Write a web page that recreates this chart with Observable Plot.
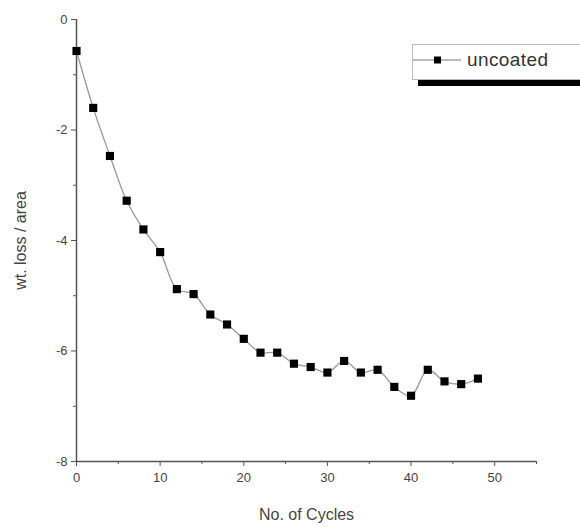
<!DOCTYPE html>
<html>
<head>
<meta charset="utf-8">
<script src="https://cdn.jsdelivr.net/npm/d3@7"></script>
<script src="https://cdn.jsdelivr.net/npm/@observablehq/plot@0.6"></script>
<style>
  body { margin: 0; background: #fff; overflow: hidden; }
  #wrap { position: relative; width: 580px; height: 527px; overflow: hidden; font-family: "Liberation Sans", Arial, sans-serif; }
  #legend { position: absolute; left: 412px; top: 44px; width: 172px; height: 36px; box-sizing: border-box;
    border: 1px solid #bbb; background: #fff; box-shadow: 6px 6px 0 #000; }
  #legend svg { position: absolute; left: 0; top: 0; }
  #legend span { position: absolute; left: 54px; top: 4px; font-size: 19px; letter-spacing: 0.4px; color: #333; }
</style>
</head>
<body>
<div id="wrap"></div>
<script>
const cycles = [0, 2, 4, 6, 8, 10, 12, 14, 16, 18, 20, 22, 24, 26, 28, 30, 32, 34, 36, 38, 40, 42, 44, 46, 48];
const wtLoss = [-0.57, -1.60, -2.47, -3.28, -3.80, -4.21, -4.88, -4.97, -5.34, -5.52, -5.78, -6.03, -6.03, -6.23, -6.29, -6.39, -6.18, -6.39, -6.34, -6.65, -6.81, -6.34, -6.55, -6.60, -6.50];
const xMajor = [0, 10, 20, 30, 40, 50];
const xMinor = [5, 15, 25, 35, 45, 55];
const yMajor = [0, -2, -4, -6, -8];
const yMinor = [-1, -3, -5, -7];
const seriesName = "uncoated";

const data = cycles.map((c, i) => ({cycle: c, loss: wtLoss[i]}));

const chart = Plot.plot({
  width: 580,
  height: 527,
  marginLeft: 76,
  marginRight: 44,
  marginTop: 19,
  marginBottom: 66,
  style: {fontFamily: "Liberation Sans, Arial, sans-serif", color: "#444", background: "#fff"},
  x: {domain: [0, 55]},
  y: {domain: [-8, 0]},
  marks: [
    Plot.ruleX([0], {stroke: "#555", strokeWidth: 1.5}),
    Plot.ruleY([-8], {stroke: "#555", strokeWidth: 1.5}),
    Plot.axisX({ticks: xMajor, tickSize: 5, tickPadding: 6, fontSize: 13, label: "No. of Cycles", labelAnchor: "center", labelArrow: "none", labelOffset: 58, stroke: "#555"}),
    Plot.axisX({ticks: xMinor, tickSize: 3, text: null, label: null, stroke: "#555"}),
    Plot.axisY({ticks: yMajor, tickSize: 5, tickPadding: 4, fontSize: 13, tickFormat: d => d === 0 ? "0" : String(d), label: "wt. loss / area", labelAnchor: "center", labelArrow: "none", labelOffset: 62, stroke: "#555"}),
    Plot.axisY({ticks: yMinor, tickSize: 3, text: null, label: null, stroke: "#555"}),
    Plot.line(data, {x: "cycle", y: "loss", curve: "catmull-rom", stroke: "#999", strokeWidth: 1.3}),
    Plot.dot(data, {x: "cycle", y: "loss", symbol: "square", r: 4.6, fill: "#000", stroke: "none"})
  ]
});
chart.querySelectorAll("g[aria-label='x-axis label'] text, g[aria-label='y-axis label'] text").forEach(t => {
  t.setAttribute("font-size", "16");
});
const wrap = document.getElementById("wrap");
wrap.appendChild(chart);

const legend = document.createElement("div");
legend.id = "legend";
legend.innerHTML = `<svg width="60" height="34"><line x1="0" y1="15" x2="48" y2="15" stroke="#777" stroke-width="1.2"/><rect x="21" y="11.5" width="7" height="7" fill="#000"/></svg><span>${seriesName}</span>`;
wrap.appendChild(legend);
</script>
</body>
</html>
